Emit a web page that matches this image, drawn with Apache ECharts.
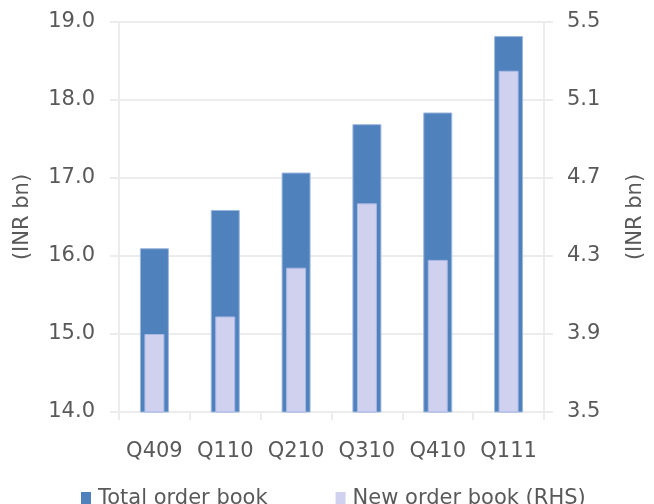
<!DOCTYPE html>
<html>
<head>
<meta charset="utf-8">
<script src="https://cdn.jsdelivr.net/npm/echarts@6/dist/echarts.min.js"></script>
<style>
  html, body { margin: 0; padding: 0; background: #fff; }
  #chart { width: 654px; height: 504px; }
</style>
</head>
<body>
<div id="chart"></div>
<script>
// 季度
var quarters = ['Q409', 'Q110', 'Q210', 'Q310', 'Q410', 'Q111'];
// 总订单 (左轴, INR bn)
var totalOrderBook = [16.10, 16.59, 17.07, 17.69, 17.84, 18.82];
// 新订单 (右轴, INR bn)
var newOrderBook = [3.90, 3.99, 4.24, 4.57, 4.28, 5.25];

var textColor = '#595959';
var lineColor = '#ececec';
var fontFamily = 'DejaVu Sans';
var fontSize = 21;

var myChart = echarts.init(document.getElementById('chart'));

var option = {
    animation: false,
    textStyle: { fontFamily: fontFamily, color: textColor },
    grid: { left: 119, right: 100, top: 22, bottom: 92 },
    legend: {
        left: 76,
        top: 483,
        itemWidth: 10,
        itemHeight: 13,
        itemGap: 68,
        icon: 'rect',
        itemStyle: { borderWidth: 0 },
        textStyle: { fontSize: fontSize, color: textColor, fontFamily: fontFamily, padding: [0, 0, 0, 2] },
        data: ['Total order book', 'New order book (RHS)']
    },
    xAxis: [
        {
            type: 'category',
            data: quarters,
            axisLine: { lineStyle: { color: lineColor, width: 2 } },
            axisTick: { show: true, length: 8, lineStyle: { color: lineColor, width: 2 } },
            axisLabel: { interval: 0, fontSize: fontSize, color: textColor, margin: 29 }
        },
        {
            type: 'category',
            data: quarters,
            show: false
        }
    ],
    yAxis: [
        {
            type: 'value',
            min: 14,
            max: 19,
            interval: 1,
            position: 'left',
            name: '(INR bn)',
            nameLocation: 'middle',
            nameRotate: 90,
            nameGap: 86,
            nameTextStyle: { fontSize: fontSize, color: textColor },
            axisLine: { show: true, lineStyle: { color: lineColor, width: 2 } },
            axisTick: { show: true, length: 9, lineStyle: { color: lineColor, width: 2 } },
            splitLine: { lineStyle: { color: lineColor, width: 2 } },
            axisLabel: {
                fontSize: fontSize, color: textColor, margin: 24,
                formatter: function (v) { return v.toFixed(1); }
            }
        },
        {
            type: 'value',
            min: 3.5,
            max: 5.5,
            interval: 0.4,
            position: 'right',
            name: '(INR bn)',
            nameLocation: 'middle',
            nameRotate: 90,
            nameGap: 81,
            nameTextStyle: { fontSize: fontSize, color: textColor },
            axisLine: { show: true, lineStyle: { color: lineColor, width: 2 } },
            axisTick: { show: true, length: 9, lineStyle: { color: lineColor, width: 2 } },
            splitLine: { show: false },
            axisLabel: {
                fontSize: fontSize, color: textColor, margin: 23,
                formatter: function (v) { return v.toFixed(1); }
            }
        }
    ],
    series: [
        {
            name: 'Total order book',
            type: 'bar',
            xAxisIndex: 0,
            yAxisIndex: 0,
            barWidth: 29,
            data: totalOrderBook,
            itemStyle: { color: '#4f81bd', borderColor: '#9fb8de', borderWidth: 1 }
        },
        {
            name: 'New order book (RHS)',
            type: 'bar',
            xAxisIndex: 1,
            yAxisIndex: 1,
            barWidth: 20,
            data: newOrderBook,
            itemStyle: { color: '#d0d0ef', borderColor: '#a9b9e2', borderWidth: 1 }
        }
    ]
};

myChart.setOption(option);
</script>
</body>
</html>
